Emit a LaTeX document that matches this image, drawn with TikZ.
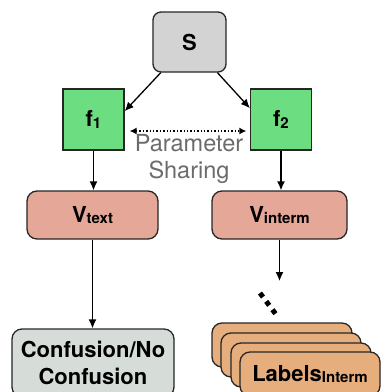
\documentclass[tikz,border=0pt]{standalone}
\usepackage{fontspec}
\setmainfont{TeX Gyre Heros}
\usetikzlibrary{arrows.meta,positioning}

\definecolor{sgray}{HTML}{D3D3D3}
\definecolor{fgreen}{HTML}{6CDD80}
\definecolor{vsalmon}{HTML}{E5A797}
\definecolor{cgray}{HTML}{D6DDD9}
\definecolor{laborange}{HTML}{E6AD7D}
\definecolor{sharegray}{HTML}{6B6B6B}

\newcommand{\lowsub}[1]{\raisebox{-1.5pt}{\fontsize{15}{15}\selectfont #1}}

\begin{document}
\begin{tikzpicture}[x=1pt,y=-1pt,
    box/.style={draw=black!85,line width=1.3pt,inner sep=0pt,align=center,
      font=\bfseries\fontsize{22}{27}\selectfont},
    vbox/.style={box,fill=vsalmon,rounded corners=10pt,minimum height=48pt},
    labbox/.style={box,fill=laborange,rounded corners=10pt,
      minimum width=140pt,minimum height=44pt},
    arr/.style={-{Latex[length=9pt,width=8pt]},line width=1.3pt}]
    \useasboundingbox (0,0) rectangle (383,392);
    \node[box,fill=sgray,rounded corners=8pt,minimum width=73pt,minimum height=60pt] (S) at (189.5,42) {S};
    \node[box,fill=fgreen,minimum size=61pt] (f1) at (93.5,119.5) {f\lowsub{1}};
    \node[box,fill=fgreen,minimum size=61pt] (f2) at (281,119.5) {f\lowsub{2}};
    \node[align=center,text=sharegray,font=\fontsize{23.5}{27}\selectfont] (share) at (189,158.5) {Parameter\\Sharing};
    \node[vbox,minimum width=131pt] (vtext) at (92.5,215) {V\lowsub{text}};
    \node[vbox,minimum width=135pt] (vinterm) at (279.5,215) {V\lowsub{interm}};
    \node[box,fill=cgray,rounded corners=10pt,minimum width=162pt,minimum height=68pt] (conf) at (93,363) {Confusion/No\\Confusion};
    % stacked label boxes
    \foreach \i/\x/\y in {1/282/345,2/291/355,3/301/365}
      \node[labbox] (lab\i) at (\x,\y) {};
    \node[labbox] (lab4) at (310,374) {Labels\lowsub{Interm}};
    \coordinate (vend) at (279.5,281);
    \coordinate (dotA) at (260,293);
    \coordinate (dotB) at (275.5,313.7);
    % arrows
    \draw[arr] (S) -- (f1.15);
    \draw[arr] (S) -- (f2.160);
    \draw[{Latex[length=7pt,width=7pt]}-{Latex[length=7pt,width=7pt]},dotted,line width=1.4pt]
      ([shift={(5,11.5)}]f1.east) -- ([shift={(-3.5,11.5)}]f2.west);
    \draw[arr] (f1.south) -- (f1.south |- vtext.north);
    \draw[arr] (f2.south) -- (f2.south |- vinterm.north);
    \draw[arr] (vtext.south) -- (vtext.south |- conf.north);
    \draw[arr] (vinterm.south) -- (vend);
    \draw[line width=5pt,dash pattern=on 5pt off 5.4pt] (dotA) -- (dotB);
\end{tikzpicture}
\end{document}
